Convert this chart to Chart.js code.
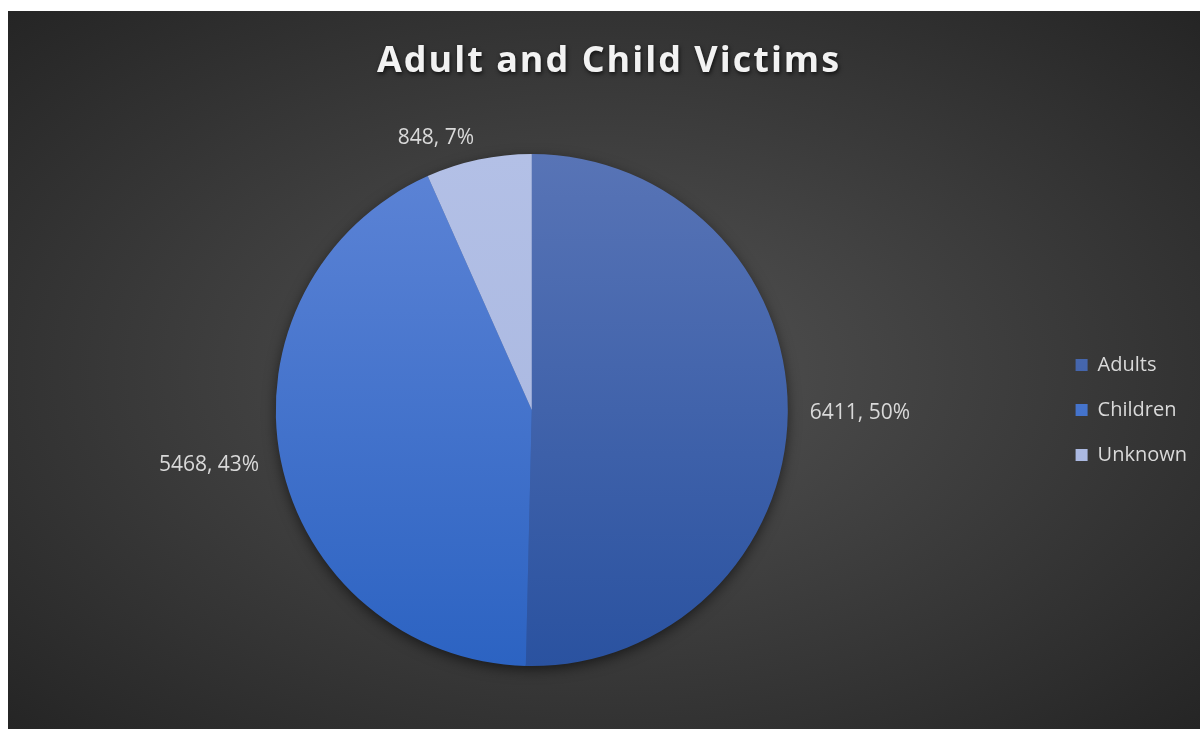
<!DOCTYPE html>
<html>
<head>
<meta charset="utf-8">
<title>Adult and Child Victims</title>
<script src="https://cdn.jsdelivr.net/npm/chart.js@4.4.1/dist/chart.umd.min.js"></script>
<style>
  html, body { margin: 0; padding: 0; background: #ffffff; }
  #wrap { width: 1200px; height: 729px; position: relative; }
</style>
</head>
<body>
<div id="wrap"><canvas id="victimChart"></canvas></div>
<script>
const chartTitle = 'Adult and Child Victims';
const categories = ['Adults', 'Children', 'Unknown'];
const victimCounts = [6411, 5468, 848];

// slice colours, light at the top of the pie and darker at the bottom
const sliceTop = ['#5874b6', '#5d84d6', '#b3c0e6'];
const sliceBottom = ['#2a52a0', '#2c63c2', '#a5b4de'];

function sliceGradient(context) {
  const { chart, dataIndex } = context;
  const area = chart.chartArea;
  if (!area) return sliceTop[dataIndex];
  const g = chart.ctx.createLinearGradient(0, area.top, 0, area.bottom);
  g.addColorStop(0, sliceTop[dataIndex]);
  g.addColorStop(1, sliceBottom[dataIndex]);
  return g;
}

// dark panel with a soft lighter centre
const panelBackground = {
  id: 'panelBackground',
  beforeDraw(chart) {
    const { ctx, width, height } = chart;
    const x0 = 8, y0 = 11;
    const w = width - x0, h = height - y0;
    ctx.save();
    ctx.fillStyle = '#ffffff';
    ctx.fillRect(0, 0, width, height);
    ctx.beginPath();
    ctx.rect(x0, y0, w, h);
    ctx.clip();
    ctx.translate(x0 + w / 2, y0 + h / 2);
    ctx.scale(1, h / w);
    const g = ctx.createRadialGradient(0, 0, 0, 0, 0, w * 0.72);
    g.addColorStop(0, '#535353');
    g.addColorStop(1, '#242424');
    ctx.fillStyle = g;
    ctx.fillRect(-w, -w, w * 2, w * 2);
    ctx.restore();
  }
};

// shadow under the whole pie
const pieShadow = {
  id: 'pieShadow',
  beforeDatasetsDraw(chart) {
    const arc = chart.getDatasetMeta(0).data[0];
    if (!arc) return;
    const { ctx } = chart;
    ctx.save();
    ctx.shadowColor = 'rgba(0, 0, 0, 0.6)';
    ctx.shadowBlur = 14;
    ctx.shadowOffsetY = 4;
    ctx.fillStyle = '#2f4f90';
    ctx.beginPath();
    ctx.arc(arc.x, arc.y, arc.outerRadius - 1, 0, Math.PI * 2);
    ctx.fill();
    ctx.restore();
  }
};

// "value, percent" labels outside each slice
const sliceLabels = {
  id: 'sliceLabels',
  afterDatasetsDraw(chart) {
    const { ctx } = chart;
    const meta = chart.getDatasetMeta(0);
    const values = chart.data.datasets[0].data;
    const total = values.reduce((a, b) => a + b, 0);
    ctx.save();
    ctx.font = '21px "Open Sans"';
    ctx.fillStyle = '#d9d9d9';
    ctx.textBaseline = 'middle';
    meta.data.forEach((arc, i) => {
      const mid = (arc.startAngle + arc.endAngle) / 2;
      const r = arc.outerRadius + 22;
      const x = arc.x + Math.cos(mid) * r;
      const y = arc.y + Math.sin(mid) * r;
      ctx.textAlign = Math.cos(mid) >= 0 ? 'left' : 'right';
      ctx.fillText(`${values[i]}, ${Math.round(values[i] / total * 100)}%`, x, y);
    });
    ctx.restore();
  }
};

// spaced-out bold title with a drop shadow
const spacedTitle = {
  id: 'spacedTitle',
  afterDraw(chart) {
    const { ctx } = chart;
    ctx.save();
    ctx.font = 'bold 36px "Open Sans"';
    ctx.letterSpacing = '2px';
    ctx.textAlign = 'center';
    ctx.textBaseline = 'alphabetic';
    ctx.shadowColor = 'rgba(0, 0, 0, 0.7)';
    ctx.shadowBlur = 4;
    ctx.shadowOffsetX = 1;
    ctx.shadowOffsetY = 2;
    ctx.fillStyle = '#f2f2f2';
    ctx.fillText(chartTitle, 609, 72);
    ctx.restore();
  }
};

const ctx = document.getElementById('victimChart').getContext('2d');

new Chart(ctx, {
  type: 'pie',
  data: {
    labels: categories,
    datasets: [{
      data: victimCounts,
      backgroundColor: sliceGradient,
      borderWidth: 0
    }]
  },
  options: {
    responsive: true,
    maintainAspectRatio: false,
    animation: false,
    layout: {
      padding: { top: 154, bottom: 63, left: 13, right: 3 }
    },
    plugins: {
      legend: {
        position: 'right',
        labels: {
          boxWidth: 12,
          boxHeight: 12,
          padding: 25,
          color: '#d9d9d9',
          font: { family: 'Open Sans', size: 20 }
        }
      },
      title: { display: false },
      tooltip: { enabled: false }
    }
  },
  plugins: [panelBackground, pieShadow, sliceLabels, spacedTitle]
});
</script>
</body>
</html>
